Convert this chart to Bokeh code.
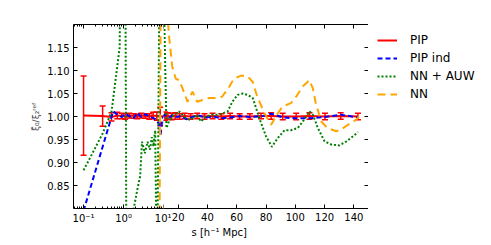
from bokeh.plotting import figure
from bokeh.layouts import row
from bokeh.models import (ColumnDataSource, Whisker, TeeHead, LogAxis, LinearAxis, FixedTicker,
                          CustomJSTickFormatter, PrintfTickFormatter, Legend, LegendItem, Title, Range1d)
from bokeh.embed import file_html
from bokeh.resources import INLINE

# ---------------- data ----------------
pip_s = [0.1, 0.3, 0.5, 0.7, 0.9, 1.1, 1.4, 1.8, 2.2, 2.8, 3.5, 4.4, 5.5, 6.8, 8.3,
         11.0, 13.0, 15.5, 18.0, 21.0, 24.5, 28.5, 33.0, 38.0, 43.5, 49.5, 55.5, 62.0, 69.0,
         76.6, 83.5, 91.4, 100.6, 109.7, 120.3, 131.0, 142.8]
pip_ratio = [1.002, 1.001, 0.999, 1.002, 1.001, 1.000, 1.002, 1.001, 1.000, 1.002, 1.001, 1.000, 1.002, 1.001, 1.000,
             1.001, 1.001, 1.000, 1.001, 1.000, 1.001, 1.000, 1.001, 1.000, 1.001, 1.000, 1.001, 1.000, 1.000,
             1.001, 1.001, 1.000, 1.000, 1.001, 1.000, 1.001, 1.000]
pip_err = [0.086, 0.022, 0.009, 0.007, 0.006, 0.006, 0.005, 0.005, 0.005, 0.005, 0.005, 0.006, 0.007, 0.009, 0.020,
           0.009, 0.007, 0.007, 0.007, 0.006, 0.006, 0.006, 0.006, 0.006, 0.006, 0.006, 0.006, 0.006, 0.006,
           0.006, 0.007, 0.007, 0.007, 0.007, 0.007, 0.007, 0.007]

ind_s = [0.1, 0.55, 0.7, 0.9, 1.1, 1.4, 1.8, 2.2, 2.8, 3.5, 4.4, 5.5, 6.8, 7.6, 8.4, 9.3,
         10.5, 12.0, 14.0, 16.5, 19.0, 22.0, 25.5, 29.5, 34.0, 39.0, 44.0, 49.5, 55.5, 62.0, 69.0,
         76.6, 83.5, 91.4, 100.6, 109.7, 120.3, 131.0, 142.8]
ind_ratio = [0.795, 1.011, 1.004, 0.999, 1.006, 1.001, 0.996, 1.008, 0.999, 1.005, 1.000, 0.997, 0.991, 0.985, 0.958, 0.993,
             1.004, 1.002, 0.998, 1.003, 0.999, 1.001, 0.994, 0.999, 1.002, 0.998, 1.000, 0.996, 0.998, 1.001, 0.999,
             1.000, 1.006, 0.998, 0.996, 0.996, 0.999, 1.004, 0.998]

auw_s = [0.1, 0.3, 0.5, 0.8, 1.0, 1.2, 1.5, 1.8, 2.2, 2.6, 2.9, 3.4, 4.0, 4.6, 5.1, 5.6, 6.2, 6.9, 8.4,
         10.0, 12.0, 13.8, 16.0, 20.7, 24.0, 27.5, 29.8, 33.0, 35.5, 39.0, 43.5, 48.0, 53.8, 57.0, 60.6, 64.0, 67.5, 71.0,
         75.5, 80.0, 84.0, 88.0, 92.6, 97.0, 101.7, 106.0, 109.7, 112.0, 115.4, 120.0, 124.6, 130.0, 135.0, 139.4, 142.8]
auw_ratio = [0.883, 0.963, 1.010, 1.150, 2.500, 0.500, 0.550, 0.800, 0.840, 0.870, 0.945, 0.920, 0.945, 0.928, 0.955, 0.935, 0.970, 0.600, 1.600,
             1.300, 0.975, 0.990, 1.000, 1.011, 1.000, 0.993, 0.996, 1.004, 0.989, 1.000, 1.004, 1.004, 1.011, 1.032, 1.047, 1.050, 1.047, 1.040,
             0.996, 0.957, 0.934, 0.953, 0.970, 0.970, 0.975, 0.993, 1.011, 1.004, 0.975, 0.946, 0.939, 0.937, 0.946, 0.957, 0.966]

nn_s = [0.1, 1.0, 3.0, 7.8, 8.8, 10.0, 12.0, 13.8, 16.0, 18.4, 20.7, 23.0, 26.4, 29.8, 33.0, 36.6, 41.0, 45.8, 50.0, 55.0, 58.0, 63.0, 67.5, 71.0,
        74.0, 79.0, 83.5, 88.0, 91.4, 97.0, 100.6, 105.0, 109.7, 112.0, 114.0, 117.7, 122.0, 128.0, 131.0, 136.0, 141.7, 143.5]
nn_ratio = [0.300, 0.400, 0.500, 0.600, 1.500, 1.400, 1.250, 1.174, 1.108, 1.082, 1.079, 1.061, 1.032, 1.054, 1.032, 1.036, 1.040, 1.040, 1.043, 1.065, 1.082, 1.089, 1.087, 1.075,
            1.043, 1.007, 0.982, 1.007, 1.022, 1.029, 1.043, 1.065, 1.079, 1.061, 1.029, 0.989, 0.975, 0.968, 0.971, 0.982, 0.993, 1.000]

y_ticks = [0.85, 0.90, 0.95, 1.00, 1.05, 1.10, 1.15]
x_ticks_log = [0.1, 1, 10]
x_ticks_lin = [20, 40, 60, 80, 100, 120, 140]
legend_labels = ["PIP", "PIP ind", "NN + AUW", "NN"]
x_label = "s [h⁻¹ Mpc]"
y_label = "ξ̄₀/ξ₂ʳᵉᶠ"

FONT = "DejaVu Sans"
log_minor = [0.06, 0.07, 0.08, 0.09, 0.2, 0.3, 0.4, 0.5, 0.6, 0.7, 0.8, 0.9,
             2, 3, 4, 5, 6, 7, 8, 9]

STYLES = [dict(line_color="red", line_width=2),
          dict(line_color="blue", line_width=2, line_dash="5 3"),
          dict(line_color="green", line_width=2, line_dash="2 2"),
          dict(line_color="orange", line_width=2, line_dash="8 5")]
SERIES = [(pip_s, pip_ratio), (ind_s, ind_ratio), (auw_s, auw_ratio), (nn_s, nn_ratio)]

log_fmt = CustomJSTickFormatter(code="""
const e = Math.round(Math.log10(tick));
const sup = {"-2": "\u207b\u00b2", "-1": "\u207b\u00b9", "0": "\u2070", "1": "\u00b9", "2": "\u00b2"};
return "10" + sup[String(e)];
""")
blank_fmt = CustomJSTickFormatter(code="return '';")


def style_axis(ax, labels=True):
    ax.axis_line_color = "black"
    ax.axis_line_width = 1
    ax.major_tick_in = 4
    ax.major_tick_out = 0
    ax.minor_tick_in = 2
    ax.minor_tick_out = 0
    ax.major_tick_line_color = "black"
    ax.minor_tick_line_color = "black"
    ax.major_label_text_font = FONT
    ax.major_label_text_font_size = "10px"
    ax.major_label_text_color = "black"
    ax.major_label_standoff = 4 if labels else 0


y_range = Range1d(0.80, 1.20)


def add_series(p, lo, hi):
    rs = [p.line(xs, ys, **st) for (xs, ys), st in zip(SERIES[:1], STYLES[:1])]
    sel = [i for i, s in enumerate(pip_s) if lo <= s <= hi]
    src = ColumnDataSource(dict(
        x=[pip_s[i] for i in sel],
        upper=[pip_ratio[i] + pip_err[i] for i in sel],
        lower=[pip_ratio[i] - pip_err[i] for i in sel]))
    w = Whisker(source=src, base="x", upper="upper", lower="lower", dimension="height",
                line_color="red", line_width=1.5,
                upper_head=TeeHead(size=6, line_color="red", line_width=1.5),
                lower_head=TeeHead(size=6, line_color="red", line_width=1.5))
    p.add_layout(w)
    rs += [p.line(xs, ys, **st) for (xs, ys), st in zip(SERIES[1:], STYLES[1:])]
    return rs


# ---------------- left (log) panel ----------------
p1 = figure(x_axis_type="log", x_range=Range1d(0.056, 10.0001), y_range=y_range,
            frame_width=90, frame_height=184, output_backend="svg", toolbar_location=None,
            min_border_left=73, min_border_right=8, min_border_top=24, min_border_bottom=30)
p1.outline_line_color = None
p1.grid.visible = False
p1.xaxis.ticker = FixedTicker(ticks=x_ticks_log, minor_ticks=log_minor)
p1.xaxis.formatter = log_fmt
p1.yaxis.ticker = FixedTicker(ticks=y_ticks)
p1.yaxis.formatter = PrintfTickFormatter(format="%.2f")
style_axis(p1.xaxis[0])
style_axis(p1.yaxis[0])
p1.yaxis.minor_tick_line_color = None
p1.yaxis.axis_label = y_label
p1.yaxis.axis_label_text_font = FONT
p1.yaxis.axis_label_text_font_size = "9px"
p1.yaxis.axis_label_text_font_style = "normal"
p1.yaxis.axis_label_standoff = 3
top1 = LogAxis(ticker=FixedTicker(ticks=x_ticks_log, minor_ticks=log_minor), formatter=blank_fmt)
style_axis(top1, labels=False)
p1.add_layout(top1, "above")
add_series(p1, 0.0, 10.0)

# ---------------- right (linear) panel ----------------
p2 = figure(x_range=Range1d(10, 150), y_range=y_range, y_axis_location=None,
            frame_width=205, frame_height=184, output_backend="svg", toolbar_location=None,
            min_border_left=0, min_border_right=0, min_border_top=24, min_border_bottom=30,
            margin=(0, 0, 0, -8))
p2.border_fill_alpha = 0
p2.outline_line_color = None
p2.grid.visible = False
p2.xaxis.ticker = FixedTicker(ticks=x_ticks_lin)
style_axis(p2.xaxis[0])
p2.xaxis.minor_tick_line_color = None
top2 = LinearAxis(ticker=FixedTicker(ticks=x_ticks_lin), formatter=blank_fmt)
style_axis(top2, labels=False)
top2.minor_tick_line_color = None
p2.add_layout(top2, "above")
right2 = LinearAxis(ticker=FixedTicker(ticks=y_ticks), formatter=blank_fmt)
style_axis(right2, labels=False)
right2.minor_tick_line_color = None
p2.add_layout(right2, "right")
add_series(p2, 10.0, 1000.0)

p2.add_layout(Title(text=x_label, align="left", offset=28, text_font=FONT,
                    text_font_size="10px", text_font_style="normal", text_color="black",
                    standoff=2), "below")

# ---------------- legend panel (series drawn outside its ranges; only the legend shows) ----------------
p3 = figure(x_range=Range1d(1000, 1001), y_range=Range1d(5, 6), x_axis_location=None, y_axis_location=None,
            frame_width=112, frame_height=184, output_backend="svg", toolbar_location=None,
            min_border_left=0, min_border_right=0, min_border_top=24, min_border_bottom=30)
p3.outline_line_color = None
p3.grid.visible = False
leg_r = [p3.line(xs, ys, **st) for (xs, ys), st in zip(SERIES, STYLES)]
legend = Legend(items=[LegendItem(label=lab, renderers=[r]) for lab, r in zip(legend_labels, leg_r)],
                location="top_left", border_line_color=None, background_fill_alpha=0,
                label_text_font=FONT, label_text_font_size="12px", label_text_color="black",
                glyph_width=20, glyph_height=14, label_height=14, spacing=4,
                padding=0, margin=9, label_standoff=13)
p3.add_layout(legend)

layout = row(p1, p2, p3, spacing=0)
open("out.html", "w").write(file_html(layout, INLINE))
